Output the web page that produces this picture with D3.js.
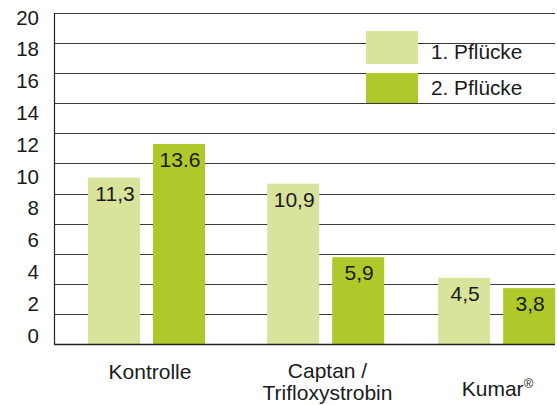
<!DOCTYPE html>
<html><head><meta charset="utf-8">
<script src="https://cdn.jsdelivr.net/npm/d3@7"></script>
<style>
html,body{margin:0;padding:0;background:#fff;}
svg{display:block;font-family:"Liberation Sans",Arial,Helvetica,sans-serif;}
</style></head>
<body>
<svg id="c" width="557" height="405"></svg>
<script>
const categories = ["Kontrolle", "Captan / Trifloxystrobin", "Kumar"];
const series = ["1. Pflücke", "2. Pflücke"];
const pick1 = [11.3, 10.9, 4.5];
const pick2 = [13.6, 5.9, 3.8];
const valueLabels1 = ["11,3", "10,9", "4,5"];
const valueLabels2 = ["13.6", "5,9", "3,8"];
const yTickLabels = [0, 2, 4, 6, 8, 10, 12, 14, 16, 18, 20];
const colors = ["#d9e39b", "#afc92a"];

(function () {
const svg = d3.select("#c");
const pLeft = 54, pRight = 555, pTop = 13, pBottom = 344;

const y = d3.scaleLinear().domain([0, 22.5]).range([pBottom, pTop]);
const gridValues = d3.range(12).map(i => i * 22.5 / 11);
const labelY = d3.scaleLinear().domain([0, 20]).range([335, 17]);

const x0 = d3.scaleOrdinal().domain(categories).range([146.5, 325.7, 496.7]);
const x1 = d3.scaleBand().domain(series).range([-58.5, 58.5]).paddingInner(0.2);

// gridlines
svg.append("g").selectAll("line").data(gridValues.slice(1)).join("line")
  .attr("x1", pLeft).attr("x2", pRight)
  .attr("y1", d => Math.round(y(d)) + 0.5).attr("y2", d => Math.round(y(d)) + 0.5)
  .attr("stroke", "#3a3a3a").attr("stroke-width", 1.1);

// y tick labels
svg.append("g").selectAll("text").data(yTickLabels).join("text")
  .attr("x", 39).attr("y", d => labelY(d) + 7.5)
  .attr("text-anchor", "end").attr("font-size", 20.5).attr("fill", "#1a1a1a")
  .text(d => d);

// legend
const legend = svg.append("g");
series.forEach((s, i) => {
  legend.append("rect").attr("x", 366).attr("y", i === 0 ? 31 : 73)
    .attr("width", 52).attr("height", i === 0 ? 33 : 30).attr("fill", colors[i]);
  legend.append("text").attr("x", 431).attr("y", i === 0 ? 59 : 95)
    .attr("font-size", 20.8).attr("fill", "#1a1a1a").text(s);
});

// bars
const rows = categories.map((c, i) => ({c, vals: [
  {s: series[0], v: pick1[i], label: valueLabels1[i]},
  {s: series[1], v: pick2[i], label: valueLabels2[i]}]}));

const g = svg.append("g").selectAll("g").data(rows).join("g")
  .attr("transform", d => `translate(${x0(d.c)},0)`);
g.selectAll("rect").data(d => d.vals).join("rect")
  .attr("x", d => x1(d.s)).attr("width", x1.bandwidth())
  .attr("y", d => y(d.v)).attr("height", d => y(0) - y(d.v))
  .attr("fill", (d, i) => colors[i]);
g.selectAll("text").data(d => d.vals).join("text")
  .attr("x", d => x1(d.s) + x1.bandwidth() / 2 + 1)
  .attr("y", d => y(d.v) + 23)
  .attr("text-anchor", "middle").attr("font-size", 21).attr("fill", "#1a1a1a")
  .text(d => d.label);

// axes lines
svg.append("line").attr("x1", pLeft + 0.5).attr("x2", pLeft + 0.5).attr("y1", pTop).attr("y2", pBottom + 1)
  .attr("stroke", "#222").attr("stroke-width", 1.2);
svg.append("line").attr("x1", pLeft).attr("x2", pRight).attr("y1", pBottom + 0.5).attr("y2", pBottom + 0.5)
  .attr("stroke", "#222").attr("stroke-width", 1.4);

// category labels
const catG = svg.append("g").attr("font-size", 21).attr("fill", "#1a1a1a").attr("text-anchor", "middle");
catG.append("text").attr("x", 150).attr("y", 379).text(categories[0]);
const parts = categories[1].split(" / ");
const t2 = catG.append("text");
t2.append("tspan").attr("x", 327.5).attr("y", 378).text(parts[0] + " /");
t2.append("tspan").attr("x", 327.5).attr("y", 400).text(parts[1]);
const t3 = catG.append("text").attr("x", 497.5).attr("y", 396);
t3.append("tspan").text(categories[2]);
t3.append("tspan").attr("font-size", 13).attr("dy", -8).text("®");
})();
</script>
</body></html>
